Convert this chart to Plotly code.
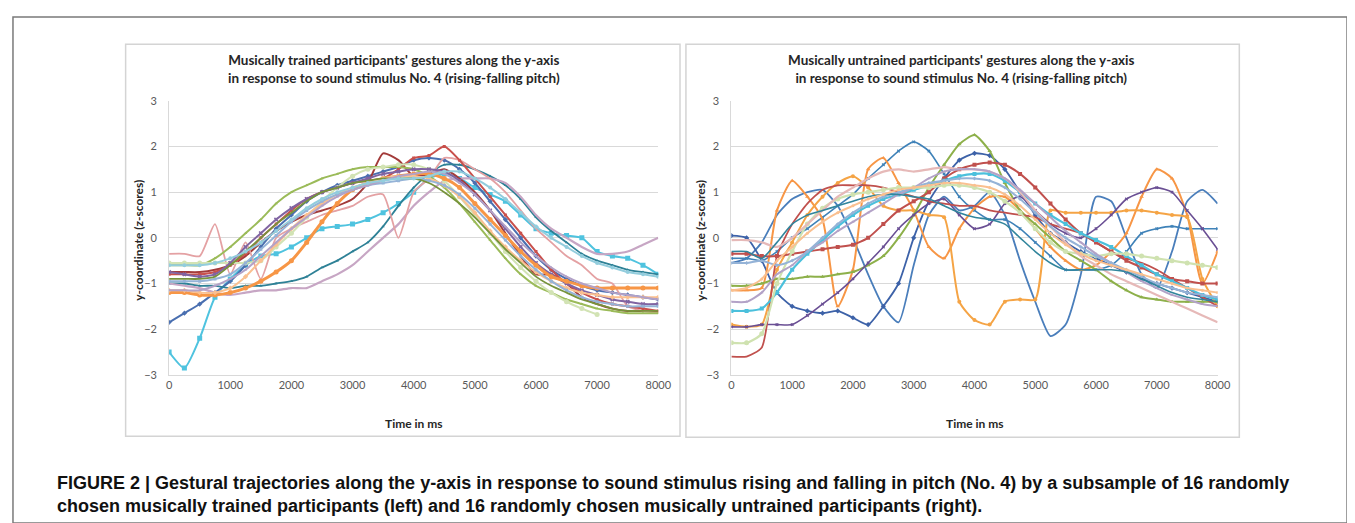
import plotly.graph_objects as go

W, H = 1355, 523

# time axis (ms)
t = [0, 250, 500, 750, 1000, 1250, 1500, 1750, 2000, 2250, 2500, 2750, 3000, 3250, 3500, 3750,
     4000, 4250, 4500, 4750, 5000, 5250, 5500, 5750, 6000, 6250, 6500, 6750, 7000, 7250, 7500, 7750, 8000]

# ---- musically trained (left) ----
L01 = [-2.5, -2.85, -2.2, -1.3, -0.9, -0.6, -0.4, -0.35, -0.2, 0.0, 0.2, 0.25, 0.3, 0.4, 0.55, 0.75, 1.0, 1.3, 1.4, 1.3, 1.1, 0.95, 0.8, 0.5, 0.2, 0.1, 0.05, 0.0, -0.3, -0.4, -0.45, -0.6, -0.8]
L02 = [-1.85, -1.65, -1.45, -1.2, -0.95, -0.6, -0.2, 0.2, 0.5, 0.8, 1.0, 1.15, 1.25, 1.35, 1.45, 1.55, 1.7, 1.75, 1.7, 1.5, 1.2, 0.8, 0.4, 0.0, -0.4, -0.7, -0.9, -1.05, -1.15, -1.2, -1.25, -1.3, -1.35]
L03 = [-1.0, -1.0, -1.05, -1.05, -1.1, -1.05, -1.05, -1.0, -0.95, -0.85, -0.65, -0.5, -0.3, -0.1, 0.25, 0.7, 1.1, 1.4, 1.6, 1.6, 1.5, 1.35, 1.15, 0.85, 0.45, 0.15, -0.1, -0.35, -0.5, -0.6, -0.7, -0.75, -0.8]
L04 = [-1.0, -1.05, -1.1, -1.2, -1.25, -1.2, -1.15, -1.15, -1.1, -1.1, -0.95, -0.8, -0.6, -0.3, 0.0, 0.3, 0.7, 1.0, 1.25, 1.3, 1.3, 1.3, 1.2, 0.9, 0.5, 0.2, 0.0, -0.2, -0.35, -0.35, -0.3, -0.15, 0.0]
L05 = [-0.75, -0.75, -0.75, -0.7, -0.6, -0.4, -0.1, 0.15, 0.35, 0.5, 0.6, 0.7, 0.85, 1.2, 1.85, 1.7, 1.35, 1.4, 1.5, 1.3, 1.0, 0.6, 0.1, -0.4, -0.8, -0.8, -1.0, -1.3, -1.45, -1.55, -1.6, -1.6, -1.6]
L06 = [-0.35, -0.35, -0.4, 0.3, -0.8, -0.1, -0.9, 0.0, 0.2, 0.35, 0.5, 0.6, 0.7, 0.9, 0.95, 0.0, 1.0, 1.3, 1.75, 1.7, 1.5, 1.3, 1.0, 0.6, 0.2, -0.1, -0.4, -0.6, -0.9, -1.0, -1.5, -1.6, -1.65]
L07 = [-0.8, -0.8, -0.8, -0.75, -0.6, -0.35, 0.0, 0.3, 0.6, 0.85, 1.0, 1.1, 1.2, 1.25, 1.3, 1.5, 1.75, 1.8, 2.0, 1.7, 1.3, 0.9, 0.5, 0.1, -0.3, -0.7, -1.0, -1.2, -1.35, -1.45, -1.5, -1.55, -1.6]
L08 = [-0.6, -0.6, -0.6, -0.45, -0.2, 0.1, 0.4, 0.75, 1.0, 1.15, 1.3, 1.4, 1.5, 1.55, 1.55, 1.55, 1.5, 1.35, 1.1, 0.75, 0.35, -0.05, -0.45, -0.8, -1.05, -1.2, -1.35, -1.45, -1.55, -1.6, -1.65, -1.65, -1.65]
L09 = [-0.55, -0.55, -0.55, -0.55, -0.55, -0.55, -0.5, -0.2, 0.1, 0.45, 0.8, 1.1, 1.35, 1.5, 1.55, 1.6, 1.6, 1.5, 1.25, 0.9, 0.5, 0.1, -0.3, -0.65, -0.95, -1.2, -1.4, -1.55, -1.68, None, None, None, None]
L10 = [-0.75, -0.8, -0.85, -0.8, -0.55, -0.2, 0.1, 0.4, 0.65, 0.85, 1.0, 1.1, 1.2, 1.3, 1.4, 1.45, 1.5, 1.5, 1.45, 1.25, 0.95, 0.6, 0.2, -0.2, -0.55, -0.8, -1.0, -1.15, -1.25, -1.35, -1.4, -1.45, -1.45]
L11 = [-1.2, -1.2, -1.25, -1.25, -1.2, -1.1, -0.95, -0.75, -0.5, -0.1, 0.35, 0.75, 1.05, 1.2, 1.3, 1.35, 1.4, 1.4, 1.3, 1.1, 0.75, 0.4, 0.05, -0.3, -0.6, -0.85, -0.95, -1.05, -1.1, -1.1, -1.1, -1.1, -1.1]
L12 = [-1.15, -1.15, -1.2, -1.2, -1.1, -0.85, -0.5, -0.15, 0.2, 0.5, 0.75, 0.95, 1.1, 1.2, 1.3, 1.35, 1.35, 1.3, 1.15, 0.9, 0.55, 0.15, -0.2, -0.5, -0.75, -0.95, -1.1, -1.2, -1.25, -1.3, -1.3, -1.3, -1.3]
L13 = [-0.95, -0.95, -0.95, -0.9, -0.8, -0.55, -0.25, 0.05, 0.35, 0.6, 0.8, 0.95, 1.05, 1.15, 1.2, 1.25, 1.3, 1.25, 1.15, 0.95, 0.65, 0.3, -0.05, -0.4, -0.7, -0.95, -1.15, -1.3, -1.4, -1.45, -1.5, -1.5, -1.5]
L14 = [-0.9, -0.9, -0.9, -0.85, -0.6, -0.3, 0.0, 0.3, 0.55, 0.8, 1.0, 1.1, 1.2, 1.25, 1.3, 1.3, 1.3, 1.2, 1.0, 0.75, 0.45, 0.1, -0.25, -0.55, -0.85, -1.05, -1.2, -1.35, -1.45, -1.55, -1.6, -1.6, -1.6]
L15 = [-1.15, -1.15, -1.15, -1.05, -0.9, -0.7, -0.4, -0.1, 0.2, 0.45, 0.7, 0.9, 1.05, 1.15, 1.25, 1.35, 1.4, 1.45, 1.4, 1.2, 0.95, 0.6, 0.25, -0.1, -0.4, -0.65, -0.85, -1.0, -1.1, -1.2, -1.25, -1.3, -1.35]
L16 = [-0.6, -0.6, -0.6, -0.55, -0.45, -0.3, -0.1, 0.15, 0.4, 0.65, 0.85, 1.0, 1.1, 1.2, 1.25, 1.3, 1.3, 1.35, 1.45, 1.45, 1.3, 1.1, 0.85, 0.55, 0.25, 0.0, -0.2, -0.4, -0.55, -0.65, -0.75, -0.8, -0.85]

# ---- musically untrained (right) ----
R01 = [-0.55, -0.45, -0.1, 0.5, 0.85, 1.0, 1.05, 0.7, 0.0, -0.8, -1.5, -1.85, -0.6, 0.5, 0.9, 0.6, 0.7, 1.0, 0.5, -0.5, -1.4, -2.15, -1.9, -0.8, 0.9, 0.8, 0.0, -0.8, -1.1, -0.3, 0.8, 1.05, 0.75]
R02 = [0.05, 0.0, -0.5, -1.2, -1.5, -1.6, -1.65, -1.6, -1.75, -1.9, -1.5, -1.0, 0.0, 0.8, 1.3, 1.7, 1.85, 1.8, 1.5, 1.0, 0.5, 0.1, -0.1, -0.3, -0.45, -0.6, -0.75, -0.9, -1.0, -1.1, -1.2, -1.3, -1.4]
R03 = [-0.45, -0.45, -0.5, -0.3, 0.0, 0.2, 0.45, 0.7, 0.95, 1.3, 1.6, 1.9, 2.1, 1.9, 1.4, 0.9, 0.6, 0.4, 0.4, 0.2, -0.1, -0.4, -0.7, -0.7, -0.7, -0.6, -0.3, 0.1, 0.2, 0.25, 0.2, 0.2, 0.2]
R04 = [-1.15, -1.15, -1.1, 0.6, 1.25, 0.9, 0.4, -1.5, -0.7, 1.5, 1.75, 1.2, 0.6, -0.2, -0.45, 0.2, 0.65, 0.9, 0.9, 0.6, 0.2, -0.2, -0.5, -0.7, -0.6, -0.3, 0.1, 0.9, 1.5, 1.3, 0.5, -1.0, -0.3]
R05 = [-1.9, -1.95, -1.9, -0.7, -0.1, 0.5, 0.9, 1.2, 1.35, 1.1, 0.7, 0.6, 0.6, 0.5, 0.45, -1.4, -1.8, -1.9, -1.4, -1.35, -1.35, 0.6, 0.55, 0.55, 0.55, 0.55, 0.6, 0.6, 0.55, 0.5, 0.45, -0.9, -1.5]
R06 = [-1.05, -1.05, -1.0, -0.9, -0.9, -0.85, -0.85, -0.8, -0.75, -0.6, -0.4, 0.0, 0.5, 1.1, 1.6, 2.05, 2.25, 1.9, 1.2, 0.6, 0.3, 0.0, -0.3, -0.5, -0.7, -0.95, -1.15, -1.3, -1.35, -1.4, -1.4, -1.4, -1.4]
R07 = [-1.95, -1.95, -1.9, -1.9, -1.9, -1.7, -1.45, -1.2, -0.9, -0.55, -0.2, 0.2, 0.5, 0.75, 0.85, 0.5, 0.2, 0.3, 0.75, 0.9, 0.6, 0.3, 0.1, 0.0, 0.2, 0.5, 0.85, 1.0, 1.1, 1.0, 0.6, 0.2, -0.25]
R08 = [-2.6, -2.6, -2.4, -0.4, 0.3, 0.75, 1.05, 1.15, 1.15, 1.15, 1.1, 1.0, 0.9, 0.8, 0.75, 0.7, 0.7, 0.6, 0.55, 0.5, 0.45, 0.3, 0.2, 0.1, -0.1, -0.3, -0.45, -0.55, -0.7, -0.9, -1.1, -1.3, -1.5]
R09 = [-0.35, -0.35, -0.4, -0.4, -0.35, -0.3, -0.25, -0.2, -0.15, 0.0, 0.3, 0.6, 0.8, 1.0, 1.3, 1.5, 1.6, 1.65, 1.6, 1.4, 1.1, 0.75, 0.4, 0.1, -0.1, -0.3, -0.5, -0.65, -0.8, -0.9, -0.95, -1.0, -1.0]
R10 = [-1.6, -1.6, -1.55, -1.2, -0.7, -0.35, -0.05, 0.25, 0.5, 0.7, 0.85, 0.95, 1.05, 1.15, 1.25, 1.35, 1.4, 1.4, 1.25, 1.0, 0.75, 0.5, 0.3, 0.1, -0.05, -0.2, -0.4, -0.6, -0.8, -0.95, -1.1, -1.25, -1.35]
R11 = [-2.3, -2.3, -2.1, -1.0, -0.3, 0.3, 0.65, 0.85, 0.95, 1.0, 1.05, 1.1, 1.1, 1.1, 1.15, 1.15, 1.1, 1.0, 0.8, 0.55, 0.2, -0.1, -0.3, -0.35, -0.4, -0.35, -0.35, -0.4, -0.45, -0.5, -0.55, -0.6, -0.65]
R12 = [-0.05, -0.05, -0.1, -0.2, 0.0, 0.3, 0.6, 0.9, 1.1, 1.3, 1.45, 1.5, 1.45, 1.5, 1.55, 1.5, 1.5, 1.45, 1.3, 1.0, 0.6, 0.25, -0.1, -0.4, -0.6, -0.8, -0.95, -1.1, -1.25, -1.4, -1.55, -1.7, -1.85]
R13 = [-1.4, -1.4, -1.2, -0.8, -0.6, -0.3, -0.1, 0.15, 0.35, 0.55, 0.75, 0.95, 1.1, 1.3, 1.45, 1.5, 1.5, 1.45, 1.3, 1.05, 0.75, 0.45, 0.15, -0.1, -0.35, -0.55, -0.75, -0.95, -1.1, -1.25, -1.35, -1.45, -1.5]
R14 = [-0.55, -0.55, -0.5, -0.6, -0.5, -0.3, 0.0, 0.3, 0.55, 0.75, 0.9, 1.0, 1.1, 1.2, 1.25, 1.3, 1.3, 1.25, 1.1, 0.85, 0.55, 0.25, 0.0, -0.2, -0.4, -0.55, -0.7, -0.85, -1.0, -1.1, -1.2, -1.25, -1.3]
R15 = [-0.3, -0.3, -0.45, -0.1, 0.3, 0.5, 0.6, 0.7, 0.8, 0.9, 0.95, 0.95, 0.9, 0.85, 0.7, 0.55, 0.45, 0.4, 0.3, 0.0, -0.3, -0.55, -0.7, -0.7, -0.7, -0.7, -0.75, -0.9, -1.05, -1.2, -1.3, -1.35, -1.4]
R16 = [-1.15, -1.1, -0.9, -0.5, -0.2, 0.1, 0.35, 0.55, 0.7, 0.85, 0.95, 1.05, 1.1, 1.15, 1.2, 1.2, 1.15, 1.1, 0.95, 0.7, 0.4, 0.1, -0.15, -0.35, -0.5, -0.6, -0.7, -0.8, -0.9, -1.0, -1.1, -1.15, -1.2]

x_ticks = [0, 1000, 2000, 3000, 4000, 5000, 6000, 7000, 8000]
y_ticks = [-3, -2, -1, 0, 1, 2, 3]

title_left = "Musically trained participants' gestures along the y-axis<br>in response to sound stimulus No. 4 (rising-falling pitch)"
title_right = "Musically untrained participants' gestures along the y-axis<br>in response to sound stimulus No. 4 (rising-falling pitch)"
y_title = "y-coordinate (z-scores)"
x_title = "Time in ms"
caption = ("FIGURE 2 | Gestural trajectories along the y-axis in response to sound stimulus rising and falling in pitch (No. 4) by a subsample of 16 randomly<br>"
           "chosen musically trained participants (left) and 16 randomly chosen musically untrained participants (right).")

# styles: (values, colour, marker symbol, line width, marker size)
left_series = [
    (L01, "#4FC3DF", "square", 2.0, 5),
    (L02, "#4A6FB0", "diamond", 2.0, 4),
    (L03, "#2E8196", "triangle-up", 1.8, 3),
    (L04, "#C7A6C4", None, 2.2, 0),
    (L05, "#A33B3A", None, 2.0, 0),
    (L06, "#E4A1A3", None, 1.8, 0),
    (L07, "#C9504C", "square", 2.0, 3),
    (L08, "#9BBB59", "triangle-up", 2.0, 3),
    (L09, "#D2E3B4", "circle", 2.0, 5),
    (L10, "#8064A2", "x", 2.0, 4),
    (L11, "#F79646", "circle", 3.0, 5),
    (L12, "#FAC090", "diamond", 2.0, 4),
    (L13, "#95B3D7", "square", 2.0, 3),
    (L14, "#77933C", None, 1.8, 0),
    (L15, "#B3A2C7", "triangle-up", 2.0, 3),
    (L16, "#93CDDD", "circle", 2.0, 4),
]
right_series = [
    (R01, "#4A7EBB", None, 1.8, 0),
    (R02, "#3D62A8", "diamond", 1.8, 4),
    (R03, "#3F82B8", "x", 1.6, 3),
    (R04, "#F79646", "triangle-up", 2.0, 4),
    (R05, "#F5A445", "circle", 2.0, 4),
    (R06, "#8DB04A", "triangle-up", 2.0, 4),
    (R07, "#6A4F94", "x", 1.6, 3),
    (R08, "#C0504D", None, 1.8, 0),
    (R09, "#C0504D", "square", 2.0, 4),
    (R10, "#4BC0DC", "square", 2.2, 4),
    (R11, "#CFE2B0", "circle", 2.2, 5),
    (R12, "#E6B9B8", None, 2.2, 0),
    (R13, "#B3A2C7", "triangle-up", 2.0, 3),
    (R14, "#95B3D7", "diamond", 2.0, 3),
    (R15, "#31859C", None, 1.6, 0),
    (R16, "#FAC090", "circle", 2.0, 3),
]

fig = go.Figure()


def add(series, xa, ya):
    for vals, col, sym, lw, ms in series:
        mode = "lines+markers" if sym else "lines"
        kw = dict(x=t, y=vals, mode=mode, xaxis=xa, yaxis=ya, showlegend=False,
                  line=dict(color=col, width=lw, shape="spline", smoothing=0.6),
                  connectgaps=False, hoverinfo="skip")
        if sym:
            kw["marker"] = dict(symbol=sym, size=ms, color=col, line=dict(width=0, color=col))
        fig.add_trace(go.Scatter(**kw))


add(left_series, "x", "y")
add(right_series, "x2", "y2")


def px(x):
    return x / W


def py(y):
    return 1 - y / H


tickfont = dict(family="Lato, Carlito, sans-serif", size=11, color="#595959")
base_axis = dict(zeroline=False, showline=True, linecolor="#D9D9D9", linewidth=1, ticks="",
                 tickfont=tickfont, fixedrange=True)
x_axis = dict(showgrid=False, **base_axis)
y_axis = dict(showgrid=True, gridcolor="#D9D9D9", gridwidth=1, ticklabelstandoff=9, **base_axis)

fig.update_layout(
    width=W, height=H, margin=dict(l=0, r=0, t=0, b=0),
    paper_bgcolor="white", plot_bgcolor="white",
    xaxis=dict(domain=[px(160), px(655)], range=[0, 8000], tickvals=x_ticks, anchor="y", **x_axis),
    yaxis=dict(domain=[py(369), py(88)], range=[-3, 3], tickvals=y_ticks, anchor="x", **y_axis),
    xaxis2=dict(domain=[px(729), px(1221)], range=[0, 8000], tickvals=x_ticks, anchor="y2", **x_axis),
    yaxis2=dict(domain=[py(369), py(88)], range=[-3, 3], tickvals=y_ticks, anchor="x2", **y_axis),
)

shapes = [
    # outer figure frame
    dict(type="rect", xref="paper", yref="paper", x0=px(2), x1=px(1352), y0=py(521), y1=py(2),
         line=dict(color="#7A7A7A", width=1.5), layer="below"),
    # chart boxes
    dict(type="rect", xref="paper", yref="paper", x0=px(116), x1=px(677), y0=py(432), y1=py(30),
         line=dict(color="#D4D4D4", width=1.5), layer="below"),
    dict(type="rect", xref="paper", yref="paper", x0=px(683), x1=px(1243), y0=py(433), y1=py(30),
         line=dict(color="#D4D4D4", width=1.5), layer="below"),
]
fig.update_layout(shapes=shapes)

title_font = dict(family="Lato, Carlito, sans-serif", size=13.5, color="#262626")
lab_font = dict(family="Lato, Carlito, sans-serif", size=12, color="#262626")


def bold(s):
    return "<br>".join("<b>%s</b>" % p for p in s.split("<br>"))


ann = [
    dict(text=bold(title_left), x=px(388), y=py(55), font=title_font),
    dict(text=bold(title_right), x=px(962), y=py(55), font=title_font),
    dict(text=bold(y_title), x=px(129), y=py(231), textangle=-90, font=lab_font),
    dict(text=bold(y_title), x=px(697), y=py(231), textangle=-90, font=lab_font),
    dict(text=bold(x_title), x=px(408), y=py(419), font=lab_font),
    dict(text=bold(x_title), x=px(976), y=py(419), font=lab_font),
]
for a in ann:
    a.update(showarrow=False, xref="paper", yref="paper", xanchor="center", yanchor="middle")
ann.append(dict(text=bold(caption), x=px(45), y=py(492),
                font=dict(family="Liberation Sans, Arial, sans-serif", size=18, color="#111111"),
                showarrow=False, xref="paper", yref="paper", xanchor="left", yanchor="middle", align="left"))
fig.update_layout(annotations=ann)

fig.write_html("out.html")
